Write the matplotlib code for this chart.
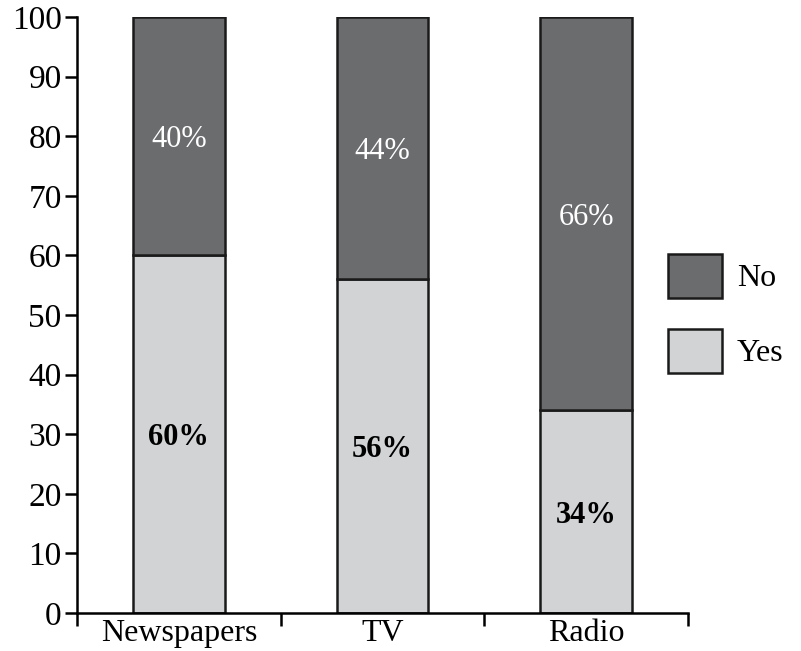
import matplotlib
matplotlib.use("Agg")
import matplotlib.pyplot as plt
import numpy as np

categories = ["Newspapers", "TV", "Radio"]
yes_vals = [60, 56, 34]
no_vals = [40, 44, 66]
yticks = [0, 10, 20, 30, 40, 50, 60, 70, 80, 90, 100]

dark = "#6b6c6e"
light = "#d2d3d5"

plt.rcParams['font.family'] = ['Liberation Serif', 'DejaVu Serif']

fig = plt.figure(figsize=(8.01, 6.51), dpi=100)
ax = fig.add_axes([77/801, 1-613/651, (688-77)/801, (613-17)/651])

x = np.arange(len(categories))
w = 0.45
b1 = ax.bar(x, yes_vals, w, color=light, edgecolor="#1a1a1a", linewidth=1.8, label="Yes", zorder=2)
b2 = ax.bar(x, no_vals, w, bottom=yes_vals, color=dark, edgecolor="#1a1a1a", linewidth=1.8, label="No", zorder=2)

for i in range(len(categories)):
    ax.text(x[i], yes_vals[i] / 2, f"{yes_vals[i]}%", ha="center", va="center_baseline",
            fontsize=22, fontweight="bold", color="black")
    ax.text(x[i], yes_vals[i] + no_vals[i] / 2, f"{no_vals[i]}%",
            ha="center", va="center_baseline", fontsize=22, color="white")

ax.set_xlim(-0.5, 2.5)
ax.set_ylim(0, 100)
ax.set_yticks(yticks)
ax.set_yticklabels([str(t) for t in yticks], fontsize=24)
ax.set_xticks(x)
ax.set_xticklabels(categories, fontsize=23)
ax.tick_params(axis="x", which="major", length=0, pad=4)
ax.set_xticks([-0.5, 0.5, 1.5, 2.5], minor=True)
ax.tick_params(axis="x", which="minor", length=9, width=1.8, direction="out")
ax.tick_params(axis="y", length=9, width=1.8, direction="out", pad=2)
for s in ["top", "right"]:
    ax.spines[s].set_visible(False)
for s in ["left", "bottom"]:
    ax.spines[s].set_linewidth(1.8)

handles = [b2, b1]
fig.legend(handles, ["No", "Yes"], loc="upper left",
           bbox_to_anchor=(668/801, 1-254/651), frameon=False,
           borderpad=0, borderaxespad=0, handlelength=1.7, handleheight=1.75,
           labelspacing=0.95, handletextpad=0.45, fontsize=23)

fig.savefig("out.png", dpi=100)
